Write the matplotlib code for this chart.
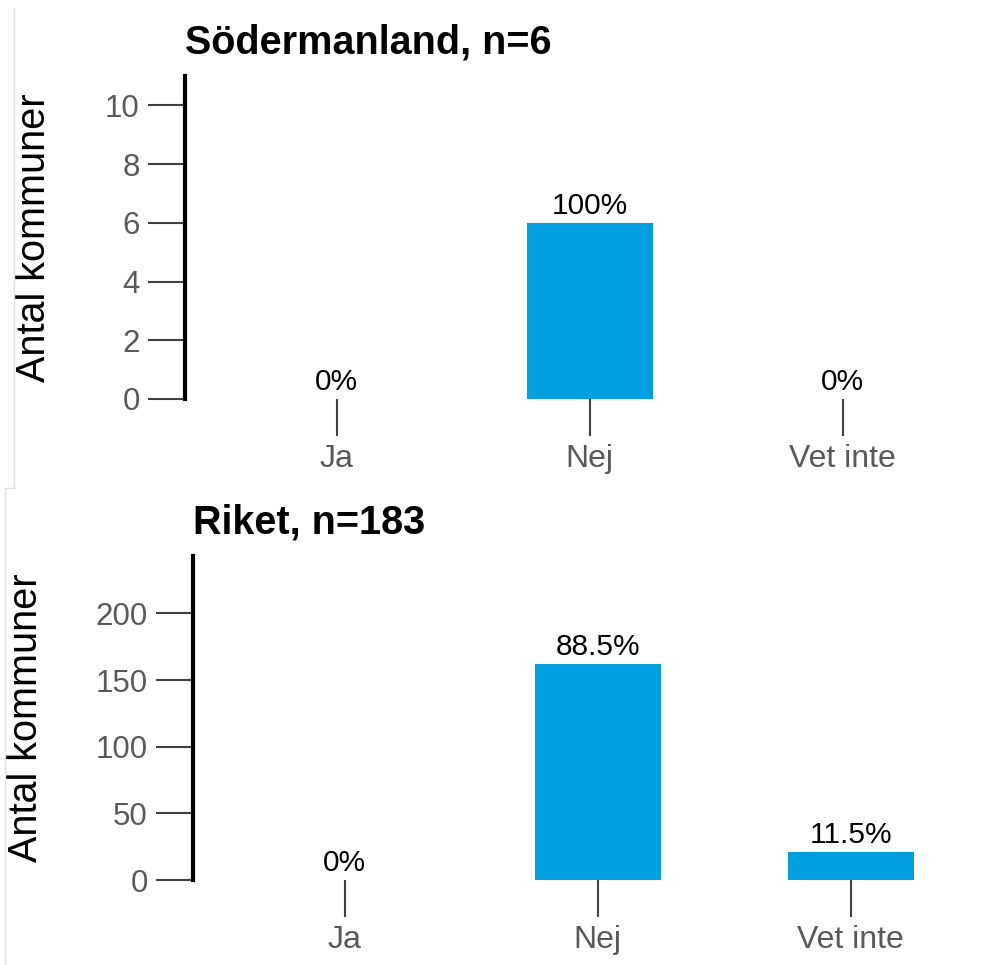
import numpy as np
import matplotlib.pyplot as plt
from matplotlib.lines import Line2D

plt.rcParams['font.family'] = ['Liberation Sans', 'DejaVu Sans']

# data
categories = ['Ja', 'Nej', 'Vet inte']
sodermanland_counts = [0, 6, 0]
sodermanland_pct = ['0%', '100%', '0%']
riket_counts = [0, 162, 21]
riket_pct = ['0%', '88.5%', '11.5%']

bar_color = '#009FE0'
tick_color = '#404040'
label_color = '#595959'

W, H = 993, 965
fig = plt.figure(figsize=(W / 100, H / 100), dpi=100)


def px_axes(left, top, right, bottom):
    return fig.add_axes([left / W, 1 - bottom / H, (right - left) / W, (bottom - top) / H])


def draw_panel(ax, counts, pct, title, ymax, yticks, ylabel_x):
    x = np.arange(len(categories))
    ax.bar(x, counts, width=0.5, color=bar_color)
    for xi, c, p in zip(x, counts, pct):
        ax.annotate(p, (xi, c), xytext=(0, 2), textcoords='offset points',
                    ha='center', va='bottom', fontsize=21.5, color='black')
    ax.set_xlim(-0.6, 2.55)
    ax.set_ylim(0, ymax)
    ax.set_yticks(yticks)
    ax.set_xticks(x)
    ax.set_xticklabels(categories, fontsize=23)
    for s in ['top', 'right', 'bottom']:
        ax.spines[s].set_visible(False)
    ax.spines['left'].set_linewidth(3)
    ax.spines['left'].set_color('black')
    ax.tick_params(axis='both', length=26.5, width=1.5, color=tick_color,
                   labelcolor=label_color, pad=6)
    ax.tick_params(axis='y', labelsize=22.5)
    ax.set_ylabel('Antal kommuner', fontsize=28.5, color='black')
    ax.yaxis.set_label_coords(ylabel_x, 0.5)
    ax.set_title(title, loc='left', fontsize=28.5, fontweight='bold', pad=16, x=0.0)


ax1 = px_axes(185, 76, 982, 399)
draw_panel(ax1, sodermanland_counts, sodermanland_pct, 'Södermanland, n=6', 11,
           [0, 2, 4, 6, 8, 10], (53 - 185) / 797)

ax2 = px_axes(193, 556, 990, 880)
draw_panel(ax2, riket_counts, riket_pct, 'Riket, n=183', 243,
           [0, 50, 100, 150, 200], (45 - 193) / 797)

# faint screenshot borders
grey = '#e0e0e0'
fig.add_artist(Line2D([14 / W, 14 / W], [1 - 8 / H, 1 - 487 / H], color=grey, lw=1))
fig.add_artist(Line2D([5 / W, 5 / W], [1 - 488 / H, 0], color=grey, lw=1))
fig.add_artist(Line2D([5 / W, 15 / W], [1 - 488 / H, 1 - 488 / H], color=grey, lw=1))

fig.savefig('out.png', dpi=100)
